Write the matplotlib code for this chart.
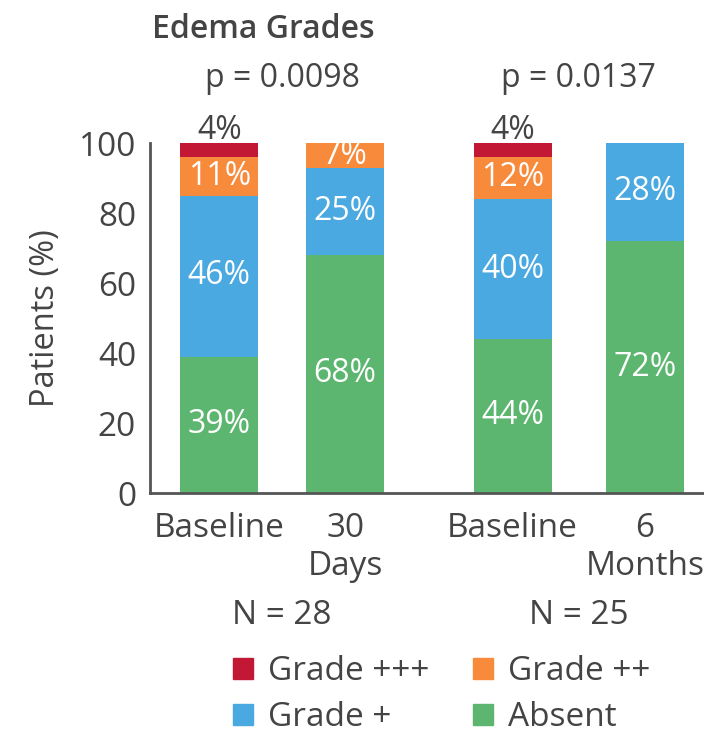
import numpy as np
import matplotlib
matplotlib.use("Agg")
import matplotlib.pyplot as plt
from matplotlib.patches import Patch
from matplotlib.transforms import blended_transform_factory

plt.rcParams['font.family'] = ['Open Sans', 'DejaVu Sans']

# --- Data ---
tick_labels = ["Baseline", "30\nDays", "Baseline", "6\nMonths"]
x_pos = np.array([0, 1, 2.33, 3.38])
absent = np.array([39, 68, 44, 72])
grade1 = np.array([46, 25, 40, 28])
grade2 = np.array([11, 7, 12, 0])
grade3 = np.array([4, 0, 4, 0])
group_centers = [0.5, 2.855]
p_values = ["p = 0.0098", "p = 0.0137"]
n_labels = ["N = 28", "N = 25"]

colors = {"Absent": "#5CB66F", "Grade +": "#4AA9E0",
          "Grade ++": "#F78A3B", "Grade +++": "#C21836"}
text_col = "#444444"
fs = 24

fig = plt.figure(figsize=(7.04, 7.38), dpi=100)
ax = fig.add_axes([150 / 704, 1 - 493 / 738, 1 - 150 / 704, 350 / 738])

w = 0.62
bottom = np.zeros(4)
segments = [("Absent", absent), ("Grade +", grade1),
            ("Grade ++", grade2), ("Grade +++", grade3)]
for name, vals in segments:
    ax.bar(x_pos, vals, w, bottom=bottom, color=colors[name], clip_on=False)
    for xi, b, v in zip(x_pos, bottom, vals):
        if v == 0:
            continue
        if name == "Grade +++":
            ax.text(xi, b + v + 1.2, f"{v}%", ha="center", va="baseline",
                    fontsize=fs - 1, color=text_col)
        else:
            ax.text(xi, b + v / 2, f"{v}%", ha="center", va="center",
                    fontsize=fs - 1, color="white")
    bottom = bottom + vals

ax.set_ylim(0, 100)
ax.set_xlim(-0.55, 3.85)
ax.set_yticks([0, 20, 40, 60, 80, 100])
ax.set_xticks(x_pos)
ax.set_xticklabels(tick_labels, linespacing=1.2)
ax.tick_params(length=0, labelsize=fs, labelcolor=text_col)
ax.tick_params(axis="y", pad=10)
ax.tick_params(axis="x", pad=14)
for s in ["top", "right"]:
    ax.spines[s].set_visible(False)
for s in ["left", "bottom"]:
    ax.spines[s].set_linewidth(2)
    ax.spines[s].set_color("#555555")
ax.set_ylabel("Patients (%)", fontsize=fs - 0.5, color=text_col, labelpad=12)

trans = blended_transform_factory(ax.transData, ax.transAxes)
for gx, p, n in zip(group_centers, p_values, n_labels):
    ax.text(gx, 1.185, p, transform=trans, ha="center", va="center",
            fontsize=fs - 1, color=text_col)
    ax.text(gx, -0.35, n, transform=trans, ha="center", va="center",
            fontsize=fs, color=text_col)

fig.text(152 / 704, 1 - 30 / 738, "Edema Grades", ha="left", va="center",
         fontsize=fs - 1, fontweight="semibold", color=text_col)

order = ["Grade +++", "Grade +", "Grade ++", "Absent"]
handles = [Patch(color=colors[k], label=k) for k in order]
fig.legend(handles=handles, ncol=2, loc="upper left",
           bbox_to_anchor=(233 / 704, 1 - 655 / 738), frameon=False,
           fontsize=fs, labelcolor=text_col, handlelength=0.6,
           handleheight=0.6, handletextpad=0.45, columnspacing=1.3,
           labelspacing=0.4, borderpad=0, borderaxespad=0)

fig.savefig("out.png", dpi=100)
